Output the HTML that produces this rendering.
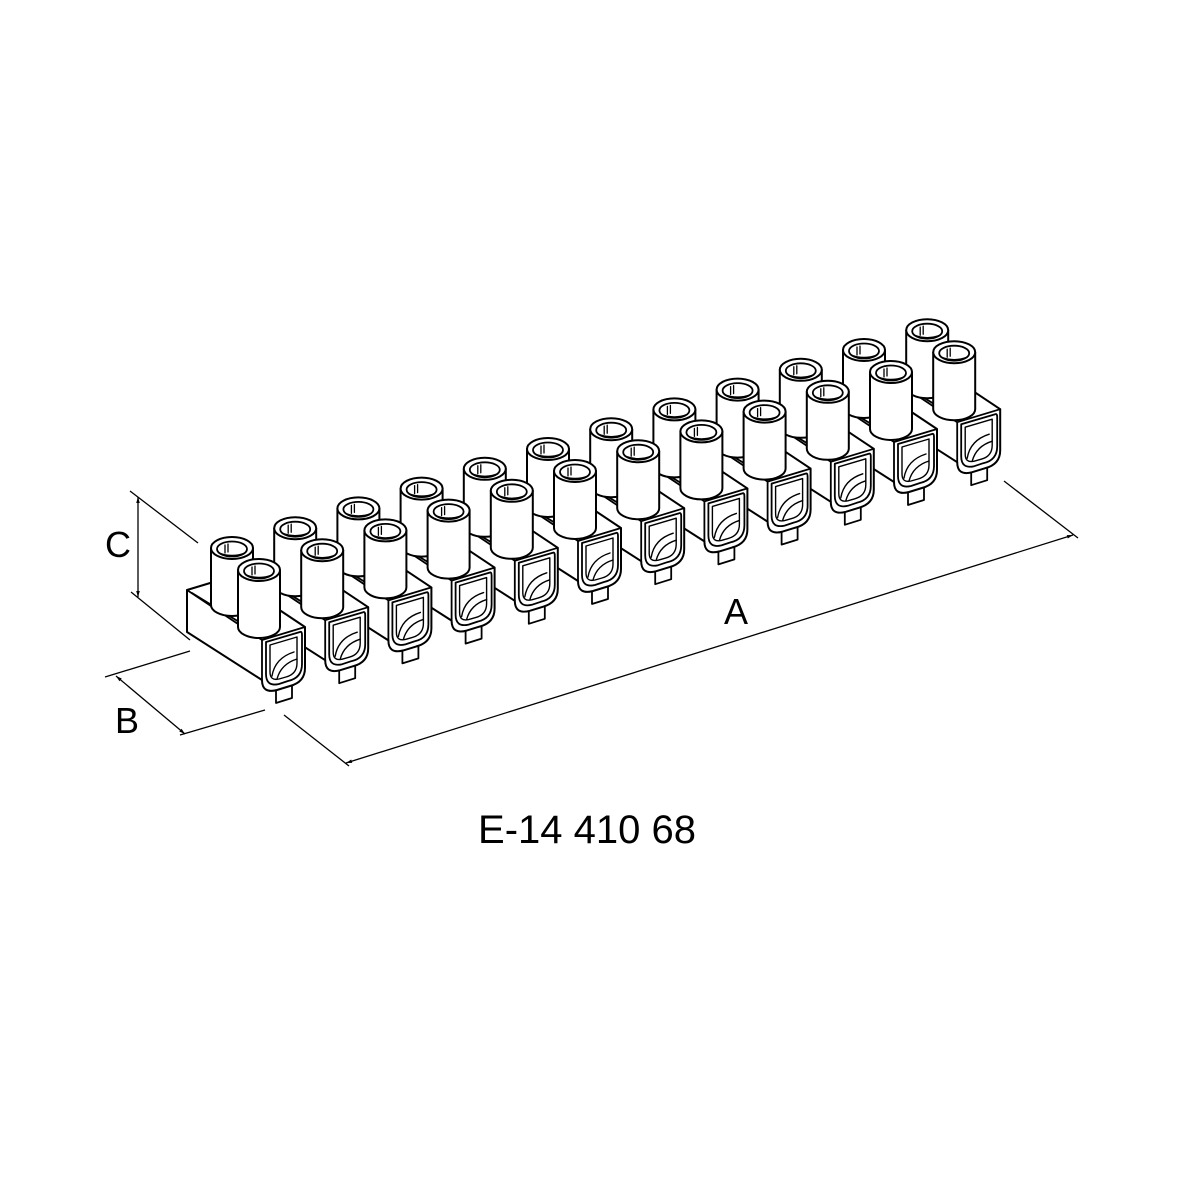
<!DOCTYPE html>
<html><head><meta charset="utf-8"><style>
html,body{margin:0;padding:0;background:#fff}
svg{display:block}
</style></head><body>
<svg width="1181" height="1181" viewBox="0 0 1181 1181" xmlns="http://www.w3.org/2000/svg">
<defs>
<marker id="ar" viewBox="0 0 10 10" refX="10" refY="5" markerWidth="9" markerHeight="6" orient="auto-start-reverse" markerUnits="userSpaceOnUse"><path d="M0,2 L10,5 L0,8 Z" fill="#000"/></marker>
<g id="cyl">
<path d="M-21,0 L-21,57 A21,11 0 0 0 21,57 L21,0 Z" fill="#fff" stroke="#000" stroke-width="2"/>
<ellipse cx="0" cy="0" rx="21" ry="11" fill="#fff" stroke="#000" stroke-width="2"/>
<ellipse cx="0" cy="1" rx="15" ry="7.5" fill="#fff" stroke="#000" stroke-width="1.8"/>
<path d="M-13,5 Q0,10 13,5" fill="none" stroke="#000" stroke-width="1.4"/>
<path d="M-7,-3 L-7,5 M-4,-4 L-4,4" fill="none" stroke="#000" stroke-width="1.3"/>
</g>
<g id="u" stroke-linejoin="round" stroke-linecap="round">
<path d="M14,48 L14,63 L30,58 L30,43" fill="#fff" stroke="#000" stroke-width="1.8"/>
<path d="M-75,-50 L-32,-63 L43,-13 L43,28 Q43,42 28,46 L15,50 Q0,54 0,40 L-75,-8 Z" fill="#fff" stroke="#000" stroke-width="2"/>
<path d="M-75,-50 L0,0 L43,-13 M0,0 L0,40 M-70,-47 L0,-4" fill="none" stroke="#000" stroke-width="1.8"/>
<path d="M4,2 L38,-8 Q40,-9 40,-5 L40,24 Q40,38 26,41 L17,44 Q4,47 4,34 Z" fill="#fff" stroke="#000" stroke-width="1.8"/>
<path d="M8,5 L35,-3 L35,23 Q35,34 24,37 L17,39 Q8,41 8,32 Z" fill="none" stroke="#000" stroke-width="1.4"/>
<path d="M10,36 Q13,18 32,12 M15,39 Q19,24 35,19" fill="none" stroke="#000" stroke-width="1.4"/>
<use href="#cyl" transform="translate(-30,-92)"/>
<path d="M-9,-35 L-4,-37 L-4,-28 L-9,-26 Z" fill="#fff" stroke="#000" stroke-width="1.3"/>
<use href="#cyl" transform="translate(-3,-70)"/>
</g>
</defs>
<g>
<use href="#u" transform="translate(957.2,422.2)"/>
<use href="#u" transform="translate(894,442)"/>
<use href="#u" transform="translate(830.8,461.8)"/>
<use href="#u" transform="translate(767.6,481.6)"/>
<use href="#u" transform="translate(704.4,501.4)"/>
<use href="#u" transform="translate(641.2,521.2)"/>
<use href="#u" transform="translate(578,541)"/>
<use href="#u" transform="translate(514.8,560.8)"/>
<use href="#u" transform="translate(451.6,580.6)"/>
<use href="#u" transform="translate(388.4,600.4)"/>
<use href="#u" transform="translate(325.2,620.2)"/>
<use href="#u" transform="translate(262,640)"/>
</g>
<g stroke="#000" stroke-width="1.3" fill="none">
<line x1="130" y1="491" x2="198" y2="543"/>
<line x1="131" y1="592" x2="190" y2="640"/>
<line x1="138" y1="497" x2="138" y2="597" marker-start="url(#ar)" marker-end="url(#ar)"/>
<line x1="105" y1="677" x2="190" y2="651"/>
<line x1="180" y1="735" x2="265" y2="710"/>
<line x1="116" y1="676" x2="185" y2="734" marker-start="url(#ar)" marker-end="url(#ar)"/>
<line x1="284" y1="715" x2="349" y2="766"/>
<line x1="1004" y1="481" x2="1078" y2="538"/>
<line x1="346" y1="763" x2="1073" y2="535" marker-start="url(#ar)" marker-end="url(#ar)"/>
</g>
<g font-family="Liberation Sans, sans-serif" fill="#000">
<text x="118" y="557" font-size="36" text-anchor="middle">C</text>
<text x="127" y="733" font-size="36" text-anchor="middle">B</text>
<text x="736" y="624" font-size="36" text-anchor="middle">A</text>
<text x="587" y="843" font-size="40" text-anchor="middle">E-14 410 68</text>
</g>
</svg>
</body></html>
